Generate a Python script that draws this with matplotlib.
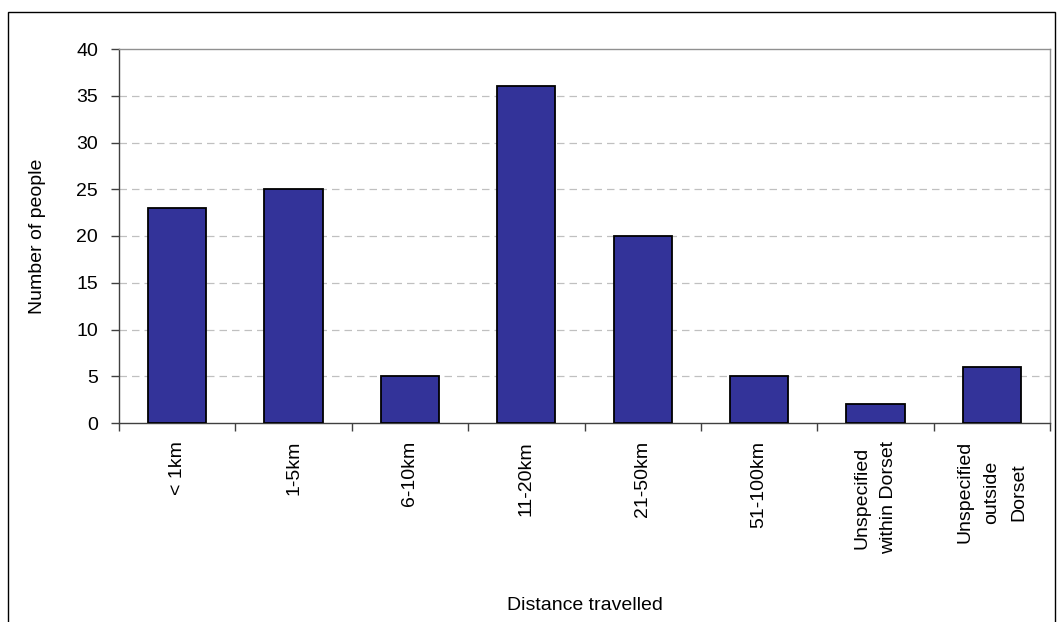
import matplotlib.pyplot as plt
from matplotlib.patches import Rectangle

# data
categories = ['< 1km', '1-5km', '6-10km', '11-20km', '21-50km', '51-100km',
              'Unspecified\nwithin Dorset', 'Unspecified\noutside\nDorset']
people = [23, 25, 5, 36, 20, 5, 2, 6]
yticks = [0, 5, 10, 15, 20, 25, 30, 35, 40]

plt.rcParams['font.family'] = ['Liberation Sans', 'DejaVu Sans']
fs = 14

fig = plt.figure(figsize=(10.58, 6.22), dpi=100)
ax = fig.add_axes([119/1058, 1 - 423/622, (1050 - 119)/1058, (423 - 49)/622])

centers = [i + 0.5 for i in range(len(categories))]
ax.bar(centers, people, width=0.5, color='#333399', edgecolor='black', linewidth=1.3, zorder=3)

ax.set_xlim(0, len(categories))
ax.set_ylim(0, 40)
ax.set_yticks(yticks)
ax.set_yticklabels([str(v) for v in yticks], fontsize=fs)

# boundary ticks (no labels) + centered labels
ax.set_xticks(range(len(categories) + 1))
ax.set_xticklabels([''] * (len(categories) + 1))
ax.set_xticks(centers, minor=True)
lbls = ax.set_xticklabels(categories, minor=True, rotation=90, fontsize=fs,
                          va='top', ha='center', multialignment='center')
for t in lbls:
    t.set_linespacing(1.75)
ax.tick_params(axis='x', which='major', length=5.5, width=1, color='#404040', direction='out')
ax.tick_params(axis='x', which='minor', length=0, pad=13)
ax.tick_params(axis='y', length=6, width=1, color='#404040', pad=9)

for v in yticks[1:-1]:
    ax.axhline(v, color='#c0c0c0', linestyle=(0, (6, 4)), linewidth=0.9, zorder=1)

ax.spines['left'].set_color('#404040')
ax.spines['bottom'].set_color('#404040')
ax.spines['top'].set_color('#909090')
ax.spines['right'].set_color('#909090')
for s in ax.spines.values():
    s.set_linewidth(1)

fig.text(38/1058, 1 - 236/622, 'Number of people', fontsize=fs, rotation=90,
         ha='center', va='center')
fig.text(584.5/1058, 1 - 606/622, 'Distance travelled', fontsize=fs, ha='center', va='center')

# outer chart border
fig.patches.append(Rectangle((8/1058, -0.05), (1055 - 8)/1058, 1.05 - 12/622,
                             transform=fig.transFigure, fill=False,
                             edgecolor='black', linewidth=1, clip_on=False))

fig.savefig('out.png', dpi=100)
